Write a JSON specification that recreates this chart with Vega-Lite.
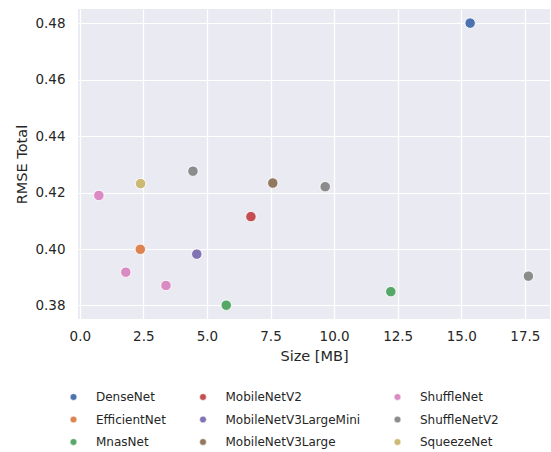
{
  "$schema": "https://vega.github.io/schema/vega-lite/v6.json",
  "width": 472,
  "height": 310,
  "autosize": {"type": "none"},
  "padding": {"left": 78, "top": 9, "right": 1, "bottom": 133},
  "config": {
    "font": "DejaVu Sans",
    "view": {"fill": "#EAEAF2", "stroke": null},
    "axis": {
      "domain": false,
      "ticks": false,
      "gridColor": "#FFFFFF",
      "gridWidth": 1.2,
      "gridOpacity": 1,
      "labelColor": "#262626",
      "labelFontSize": 13.5,
      "labelFont": "DejaVu Sans",
      "titleColor": "#262626",
      "titleFontSize": 14.5,
      "titleFontWeight": "normal",
      "titleFont": "DejaVu Sans"
    }
  },
  "data": {
    "values": [
      {"model": "DenseNet", "size": 15.35, "rmse": 0.4801},
      {"model": "EfficientNet", "size": 2.38, "rmse": 0.3999},
      {"model": "MnasNet", "size": 5.76, "rmse": 0.3801},
      {"model": "MnasNet", "size": 12.23, "rmse": 0.3849},
      {"model": "MobileNetV2", "size": 6.73, "rmse": 0.4115},
      {"model": "MobileNetV3LargeMini", "size": 4.6, "rmse": 0.3982},
      {"model": "MobileNetV3Large", "size": 7.59, "rmse": 0.4234},
      {"model": "ShuffleNet", "size": 0.75, "rmse": 0.4190},
      {"model": "ShuffleNet", "size": 1.81, "rmse": 0.3918},
      {"model": "ShuffleNet", "size": 3.39, "rmse": 0.3871},
      {"model": "ShuffleNetV2", "size": 4.45, "rmse": 0.4276},
      {"model": "ShuffleNetV2", "size": 9.65, "rmse": 0.4221},
      {"model": "ShuffleNetV2", "size": 17.64, "rmse": 0.3904},
      {"model": "SqueezeNet", "size": 2.39, "rmse": 0.4232}
    ]
  },
  "mark": {"type": "point", "filled": true, "size": 110, "opacity": 1, "stroke": "#FFFFFF", "strokeWidth": 0.9},
  "encoding": {
    "x": {
      "field": "size",
      "type": "quantitative",
      "title": "Size [MB]",
      "scale": {"domain": [-0.07, 18.49], "nice": false, "zero": false},
      "axis": {"values": [0, 2.5, 5, 7.5, 10, 12.5, 15, 17.5], "format": ".1f", "labelPadding": 10, "titlePadding": 7}
    },
    "y": {
      "field": "rmse",
      "type": "quantitative",
      "title": "RMSE Total",
      "scale": {"domain": [0.3752, 0.4851], "nice": false, "zero": false},
      "axis": {"values": [0.38, 0.4, 0.42, 0.44, 0.46, 0.48], "format": ".2f", "labelPadding": 13, "titlePadding": 5}
    },
    "color": {
      "field": "model",
      "type": "nominal",
      "scale": {
        "domain": ["DenseNet", "MobileNetV2", "ShuffleNet", "EfficientNet", "MobileNetV3LargeMini", "ShuffleNetV2", "MnasNet", "MobileNetV3Large", "SqueezeNet"],
        "range": ["#4C72B0", "#C44E52", "#DA8BC3", "#DD8452", "#8172B3", "#8C8C8C", "#55A868", "#937860", "#CCB974"]
      },
      "legend": {
        "title": null,
        "orient": "none",
        "legendX": -10.5,
        "legendY": 382,
        "columns": 3,
        "direction": "horizontal",
        "columnPadding": 30.5,
        "rowPadding": 10.5,
        "labelOffset": 16.5,
        "labelFontSize": 12,
        "labelColor": "#262626",
        "labelFont": "DejaVu Sans",
        "symbolType": "circle",
        "symbolSize": 45,
        "symbolStrokeColor": "#FFFFFF",
        "symbolStrokeWidth": 0.5,
        "symbolOpacity": 1,
        "labelLimit": 300
      }
    }
  }
}
